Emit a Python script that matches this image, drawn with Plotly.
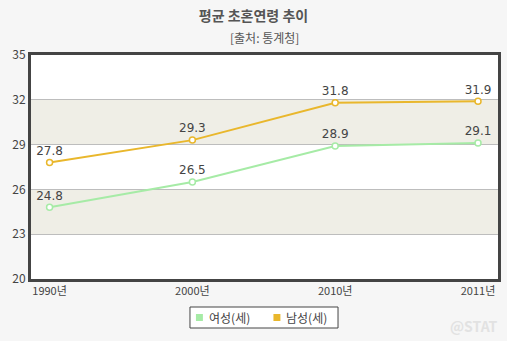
import plotly.graph_objects as go

years = ["1990년", "2000년", "2010년", "2011년"]
female = [24.8, 26.5, 28.9, 29.1]
male = [27.8, 29.3, 31.8, 31.9]
yticks = [20, 23, 26, 29, 32, 35]
series_names = ["여성(세)", "남성(세)"]

GREEN = "#a6eba6"
GOLD = "#e9b72c"
FONT = "Noto Sans CJK KR, DejaVu Sans, sans-serif"

W, H = 507, 341
L, R, T, B = 31, 6, 55, 62
plot_w = W - L - R
plot_h = H - T - B

def px(x):
    return (x - L) / plot_w

def py(y):
    return (H - B - y) / plot_h

fig = go.Figure()
for name, vals, col in [(series_names[0], female, GREEN), (series_names[1], male, GOLD)]:
    fig.add_trace(go.Scatter(
        x=years, y=vals, mode="lines+markers+text", name=name,
        text=[f"{v:.1f}" for v in vals], textposition="top center",
        textfont=dict(size=12, color="#444", family="DejaVu Sans, sans-serif"),
        line=dict(color=col, width=2),
        marker=dict(size=6, color="white", line=dict(color=col, width=1.5)),
        showlegend=False, cliponaxis=False,
    ))

for lo, hi in [(29, 32), (23, 26)]:
    fig.add_shape(type="rect", xref="paper", yref="y", x0=0, x1=1, y0=lo, y1=hi,
                  fillcolor="#efeee6", line_width=0, layer="below")

# manual legend box
fig.add_shape(type="rect", xref="paper", yref="paper", x0=px(191), x1=px(340), y0=py(307), y1=py(328),
              fillcolor="white", line=dict(color="#444", width=1))
annotations = [
    dict(text="[출처: 통계청]", x=0.5, y=py(37), xref="paper", yref="paper",
         showarrow=False, yanchor="middle", font=dict(size=12, color="#555")),
    dict(text="<b>@STAT</b>", x=px(503), y=py(326), xref="paper", yref="paper", showarrow=False,
         xanchor="right", yanchor="middle", font=dict(size=14, color="#e2e2e2")),
]
for i, (name, col) in enumerate(zip(series_names, [GREEN, GOLD])):
    sx = 197 + i * 78
    fig.add_shape(type="rect", xref="paper", yref="paper", x0=px(sx), x1=px(sx + 7),
                  y0=py(314), y1=py(321), fillcolor=col, line_width=0)
    annotations.append(dict(text=name, x=px(sx + 11), y=py(317.5), xref="paper", yref="paper",
                            showarrow=False, xanchor="left", yanchor="middle",
                            font=dict(size=12, color="#444")))

fig.update_layout(
    width=W, height=H,
    margin=dict(l=L, r=R, t=T, b=B),
    paper_bgcolor="#f6f6f6", plot_bgcolor="white",
    font=dict(family=FONT, color="#444"),
    showlegend=False,
    title=dict(text="<b>평균 초혼연령 추이</b>", x=0.5, xanchor="center", y=1 - 16 / H, yanchor="middle",
               font=dict(size=14, color="#555")),
    annotations=annotations,
)

fig.update_xaxes(range=[-0.13, 3.14], showline=True, linecolor="#444", linewidth=3, mirror=True,
                 showgrid=False, ticks="", tickfont=dict(size=11, color="#444"))
fig.update_yaxes(range=[20, 35], tickvals=yticks, showline=True, linecolor="#444", linewidth=3,
                 mirror=True, showgrid=True, gridcolor="#bdbdbd", gridwidth=1, zeroline=False,
                 ticks="", tickfont=dict(size=12, color="#444"))

fig.write_html("out.html")
